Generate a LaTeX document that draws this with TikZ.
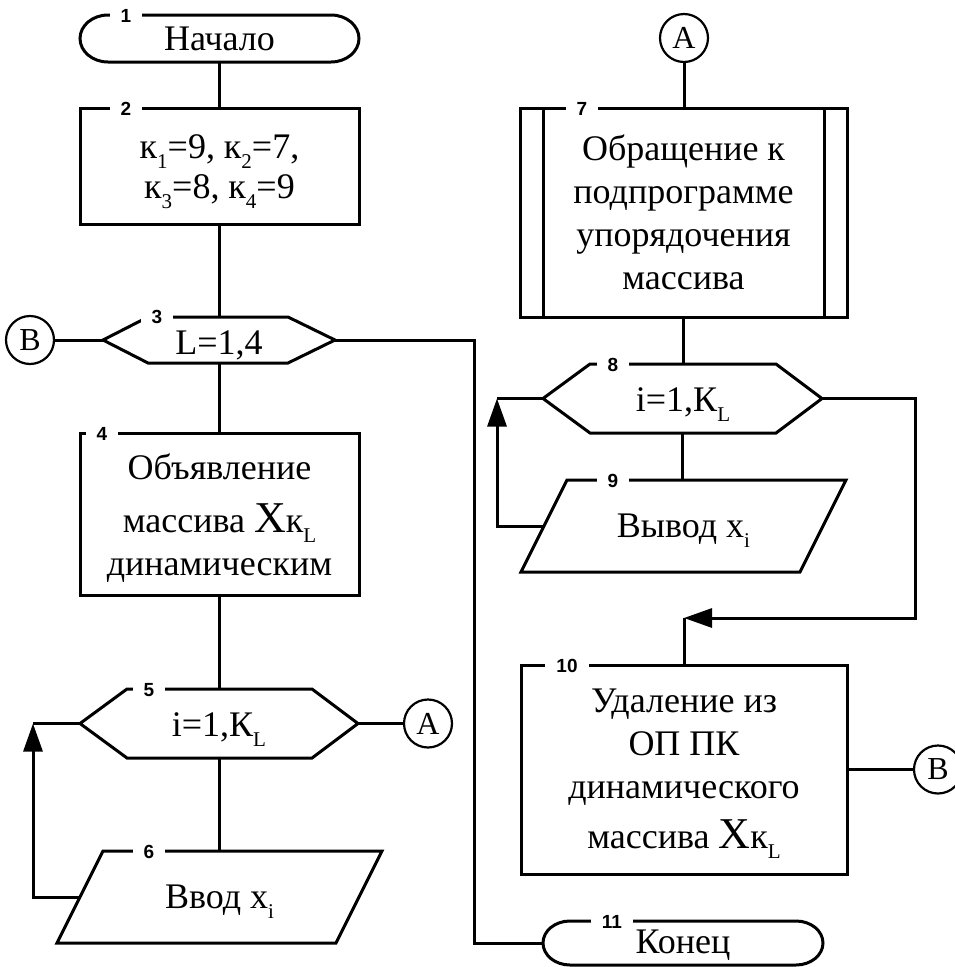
\documentclass[tikz,border=0pt]{standalone}
\usepackage{fontspec}
\setmainfont{Liberation Serif}
\newfontfamily\numfont{Liberation Sans}
\usetikzlibrary{arrows.meta,calc}
\newcommand{\sbs}[1]{\raisebox{-10pt}{\fontsize{21}{21}\selectfont #1}}
\newcommand{\bigX}{{\fontsize{44}{44}\selectfont X}}
\newcommand{\nlab}[1]{{\fontsize{19}{19}\selectfont\numfont\bfseries #1}}
\begin{document}
\begin{tikzpicture}[x=1pt,y=-1pt,
  ln/.style={line width=3pt, line join=miter, line cap=butt},
  shp/.style={inner sep=0pt, outer sep=0pt},
  txt/.style={inner sep=0pt, align=center, font=\fontsize{36}{43}\selectfont},
  num/.style={fill=white, inner xsep=11pt, inner ysep=1pt},
  conn/.style={circle, draw, line width=2.2pt, minimum size=48pt, inner sep=0pt, font=\fontsize{32}{32}\selectfont},
  arr/.style={-{Triangle[length=28pt,width=19pt]}}]
\useasboundingbox (0,0) rectangle (955,967);
\fill[white] (0,0) rectangle (955,967);
\clip (0,0) rectangle (955,967);

% ---------- left column ----------
\node[shp, minimum width=279pt, minimum height=47pt] (t1) at (219.5,38.5) {};
\draw[ln] ([xshift=28pt]t1.north west) -- ([xshift=-28pt]t1.north east)
  arc[start angle=90,end angle=-90,x radius=28pt,y radius=23.5pt]
  -- ([xshift=28pt]t1.south west)
  arc[start angle=270,end angle=90,x radius=28pt,y radius=23.5pt] -- cycle;
\node[txt] (t1t) at (219.5,39) {Начало};

\node[shp, draw, ln, minimum width=279pt, minimum height=116pt] (b2) at (219.5,166) {};
\node[txt] (b2t) at (219.5,172) {к\sbs{1}=9, к\sbs{2}=7,\\[-3pt]к\sbs{3}=8, к\sbs{4}=9};

\node[shp, minimum width=232pt, minimum height=46pt] (h3) at (219,340) {};
\draw[ln] (h3.west) -- ([xshift=45pt]h3.north west) -- ([xshift=-47pt]h3.north east)
  -- (h3.east) -- ([xshift=-47pt]h3.south east) -- ([xshift=45pt]h3.south west) -- cycle;
\node[txt] (h3t) at (219,345) {L=1,4};

\node[conn] (cb1) at (30,340) {B};

\node[shp, draw, ln, minimum width=279pt, minimum height=162pt] (b4) at (219.5,514) {};
\node[txt] (b4t) at (219.5,518) {Объявление\\[10pt]массива \bigX к\sbs{L}\\динамическим};

\node[shp, minimum width=278pt, minimum height=69pt] (h5) at (219,723.5) {};
\draw[ln] (h5.west) -- ([xshift=47pt]h5.north west) -- ([xshift=-46pt]h5.north east)
  -- (h5.east) -- ([xshift=-46pt]h5.south east) -- ([xshift=47pt]h5.south west) -- cycle;
\node[txt] (h5t) at (219,730) {i=1,К\sbs{L}};

\node[conn] (ca1) at (428,723.5) {A};

\node[shp, minimum width=325pt, minimum height=92pt] (p6) at (219.5,897) {};
\draw[ln] ([xshift=46pt]p6.north west) -- (p6.north east)
  -- ([xshift=-46pt]p6.south east) -- (p6.south west) -- cycle;
\node[txt] (p6t) at (219.5,902) {Ввод x\sbs{i}};

% ---------- right column ----------
\node[conn] (ca2) at (684,38) {A};

\node[shp, draw, ln, minimum width=327pt, minimum height=209pt] (b7) at (683.5,212.5) {};
\draw[ln] ([xshift=23pt]b7.north west) -- ([xshift=23pt]b7.south west);
\draw[ln] ([xshift=-23pt]b7.north east) -- ([xshift=-23pt]b7.south east);
\node[txt] (b7t) at (683.5,212) {Обращение к\\подпрограмме\\упорядочения\\массива};

\node[shp, minimum width=279pt, minimum height=69pt] (h8) at (682.5,398.5) {};
\draw[ln] (h8.west) -- ([xshift=47pt]h8.north west) -- ([xshift=-46pt]h8.north east)
  -- (h8.east) -- ([xshift=-46pt]h8.south east) -- ([xshift=47pt]h8.south west) -- cycle;
\node[txt] (h8t) at (683,405) {i=1,К\sbs{L}};

\node[shp, minimum width=325pt, minimum height=92pt] (p9) at (683.5,526) {};
\draw[ln] ([xshift=46pt]p9.north west) -- (p9.north east)
  -- ([xshift=-46pt]p9.south east) -- (p9.south west) -- cycle;
\node[txt] (p9t) at (683.5,531) {Вывод x\sbs{i}};

\node[shp, draw, ln, minimum width=326pt, minimum height=209pt] (b10) at (684,769.5) {};
\node[txt] (b10t) at (684,774) {Удаление из\\ОП ПК\\динамического\\[7pt]массива \bigX к\sbs{L}};

\node[conn] (cb2) at (938,769.5) {B};

\node[shp, minimum width=280pt, minimum height=44pt] (t11) at (683,943) {};
\draw[ln] ([xshift=27pt]t11.north west) -- ([xshift=-27pt]t11.north east)
  arc[start angle=90,end angle=-90,x radius=27pt,y radius=22pt]
  -- ([xshift=27pt]t11.south west)
  arc[start angle=270,end angle=90,x radius=27pt,y radius=22pt] -- cycle;
\node[txt] (t11t) at (683,945) {Конец};

% ---------- connectors ----------
\draw[ln] (t1.south) -- (b2.north);
\draw[ln] (b2.south) -- (b2.south |- h3.north);
\draw[ln] (cb1.east) -- (h3.west);
\coordinate (j1) at (474,340);
\draw[ln] (h3.east) -- (j1) |- (t11.west);
\draw[ln] (h3.south) -- (h3.south |- b4.north);
\draw[ln] (b4.south) -- (b4.south |- h5.north);
\draw[ln] (h5.south) -- (h5.south |- p6.north);
\draw[ln] (h5.east) -- (ca1.west);
\coordinate (k1) at (33,897);
\draw[ln,arr] ([xshift=23pt]p6.west) -- (k1) -- (k1 |- h5.west);
\draw[ln] (k1 |- h5.west) -- (h5.west);

\draw[ln] (ca2.south) -- (ca2.south |- b7.north);
\draw[ln] (b7.south) -- (b7.south |- h8.north);
\draw[ln] (h8.south) -- (h8.south |- p9.north);
\coordinate (k2) at (497,526);
\draw[ln,arr] ([xshift=23pt]p9.west) -- (k2) -- (k2 |- h8.west);
\draw[ln] (k2 |- h8.west) -- (h8.west);
\coordinate (j2) at (915,618);
\draw[ln,arr] (h8.east) -| (j2) -- (b10.north |- j2);
\draw[ln] (b10.north |- j2) -- (b10.north);
\draw[ln] (b10.east) -- (cb2.west);

% ---------- block numbers ----------
\node[num] (n1) at (126,16) {\nlab{1}};
\node[num] (n2) at (126,109) {\nlab{2}};
\node[num] (n3) at (157,317) {\nlab{3}};
\node[num] (n4) at (102,434) {\nlab{4}};
\node[num] (n5) at (149,690) {\nlab{5}};
\node[num] (n6) at (149,852) {\nlab{6}};
\node[num] (n7) at (582,109) {\nlab{7}};
\node[num] (n8) at (613,365) {\nlab{8}};
\node[num] (n9) at (613,481) {\nlab{9}};
\node[num] (n10) at (567,666) {\nlab{10}};
\node[num] (n11) at (612,922) {\nlab{11}};
\end{tikzpicture}
\end{document}
